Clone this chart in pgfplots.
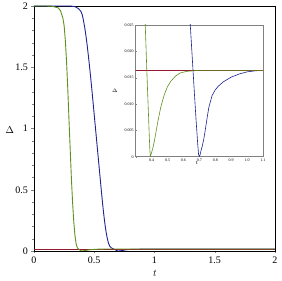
\documentclass[border=0pt]{standalone}
\usepackage{pgfplots}
\pgfplotsset{compat=1.18}
\usepackage{pgfplotstable}
\usepackage{fontspec}
\setmainfont{Liberation Serif}
\definecolor{cgreen}{RGB}{96,145,30}
\definecolor{cblue}{RGB}{30,35,145}
\definecolor{cred}{RGB}{150,25,45}
\pgfplotstableread{
t v
0 2
0.10 2
0.15 1.998
0.20 1.985
0.22 1.962
0.24 1.90
0.25 1.84
0.26 1.72
0.27 1.55
0.28 1.33
0.29 1.08
0.30 0.84
0.31 0.60
0.32 0.40
0.33 0.24
0.34 0.125
0.35 0.058
0.355 0.040
0.36 0.025
0.365 0.0207
0.37 0.0163
0.375 0.0122
0.38 0.0083
0.385 0.0042
0.389 0.0013
0.392 0.0
0.395 0.0003
0.40 0.0008
0.41 0.0019
0.42 0.0034
0.43 0.0051
0.44 0.0068
0.45 0.0083
0.46 0.0097
0.48 0.0118
0.50 0.0133
0.52 0.0143
0.55 0.0153
0.58 0.0159
0.62 0.0162
0.70 0.0164
2.0 0.0164
}\green
\pgfplotstableread{
t v
0 2
0.30 2
0.34 1.995
0.37 1.978
0.39 1.955
0.40 1.93
0.41 1.885
0.42 1.83
0.43 1.765
0.44 1.69
0.45 1.605
0.46 1.515
0.47 1.42
0.48 1.32
0.49 1.215
0.50 1.11
0.51 1.005
0.52 0.90
0.53 0.795
0.54 0.69
0.55 0.585
0.56 0.48
0.57 0.38
0.58 0.29
0.59 0.21
0.60 0.145
0.61 0.095
0.62 0.058
0.63 0.038
0.64 0.0265
0.65 0.0215
0.66 0.0165
0.67 0.0115
0.68 0.0067
0.69 0.0023
0.695 0.0005
0.70 0.0
0.705 0.0004
0.71 0.0011
0.72 0.0022
0.73 0.0037
0.74 0.0056
0.75 0.0076
0.76 0.0094
0.78 0.0116
0.80 0.0127
0.82 0.0134
0.85 0.0142
0.90 0.0151
0.95 0.0157
1.00 0.0161
1.05 0.0163
1.10 0.0164
2.00 0.0164
}\blue
\pgfplotstableread{
t v
0 0.0164
2 0.0164
}\red
\begin{document}
\begin{tikzpicture}
\begin{axis}[at={(0,0)}, anchor=south west, scale only axis,
  width=241pt, height=245pt,
  xmin=0, xmax=2, ymin=0, ymax=2,
  xtick={0,0.5,1,1.5,2}, ytick={0,0.5,1,1.5,2},
  minor tick num=4,
  xtick pos=left, ytick pos=left,
  tick align=outside,
  major tick length=2.5pt, minor tick length=1.5pt,
  tick style={gray, line width=0.4pt},
  axis line style={black, line width=0.7pt},
  ticklabel style={font=\fontsize{10}{12}\selectfont},
  /pgf/number format/assume math mode=true,
  xlabel={$t$}, ylabel={$\Delta$},
  every axis x label/.style={at={(axis description cs:0.502,-0.09)}, anchor=center, font=\fontsize{10}{12}\selectfont},
  every axis y label/.style={at={(axis description cs:-0.1,0.494)}, anchor=center, font=\fontsize{10}{12}\selectfont},
  clip=true,
]
\addplot[cblue, line width=0.9pt] table[x=t,y=v] {\blue};
\addplot[cred, line width=0.9pt] table[x=t,y=v] {\red};
\addplot[cgreen, line width=0.9pt] table[x=t,y=v] {\green};
\end{axis}
\begin{axis}[at={(101.7pt,94.3pt)}, anchor=south west, scale only axis,
  width=127.3pt, height=131.7pt,
  xmin=0.3, xmax=1.1, ymin=0, ymax=0.025,
  axis background/.style={fill=white},
  xtick={0.4,0.5,0.6,0.7,0.8,0.9,1.0,1.1},
  xticklabels={0.4,0.5,0.6,0.7,0.8,0.9,1.0,1.1},
  ytick={0,0.005,0.010,0.015,0.020,0.025},
  yticklabels={0,0.005,0.010,0.015,0.020,0.025},
  scaled y ticks=false,
  xtick pos=left, ytick pos=left,
  tick align=inside, major tick length=1pt,
  tick style={gray, line width=0.3pt},
  axis line style={gray, line width=0.6pt},
  ticklabel style={font=\fontsize{4}{5}\selectfont},
  xticklabel style={yshift=1.5pt},
  yticklabel style={xshift=1.5pt},
  xlabel={$t$}, ylabel={$\Delta$},
  every axis x label/.style={at={(axis description cs:0.48,-0.048)}, anchor=center, font=\fontsize{4}{5}\selectfont},
  every axis y label/.style={at={(axis description cs:-0.163,0.50)}, anchor=center, font=\fontsize{4}{5}\selectfont},
  clip=true,
]
\addplot[cblue, line width=0.6pt] table[x=t,y=v] {\blue};
\addplot[cred, line width=0.6pt] table[x=t,y=v] {\red};
\addplot[cgreen, line width=0.6pt] table[x=t,y=v] {\green};
\end{axis}
\pgfresetboundingbox
\useasboundingbox (-34pt,-30pt) rectangle (248pt,251pt);
\end{tikzpicture}
\end{document}
